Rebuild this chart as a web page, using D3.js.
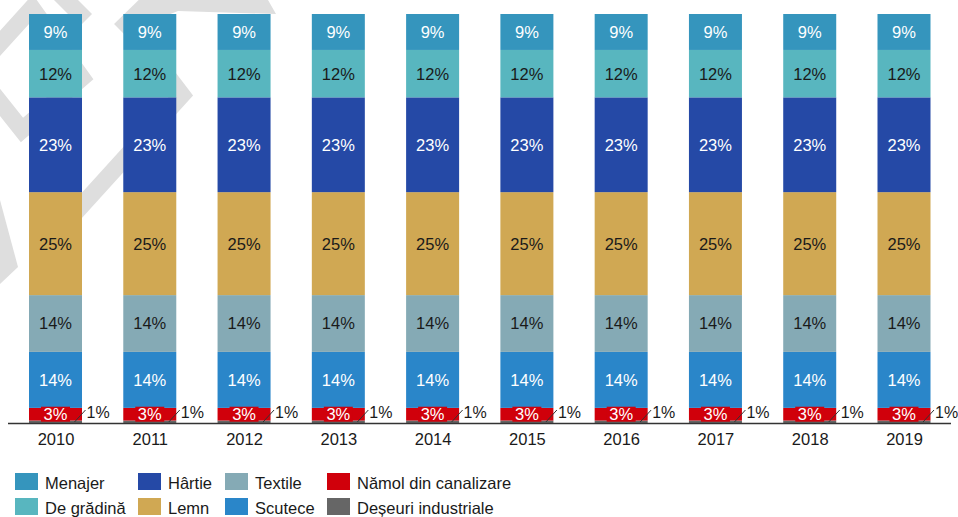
<!DOCTYPE html>
<html>
<head>
<meta charset="utf-8">
<script src="https://cdn.jsdelivr.net/npm/d3@7"></script>
<style>
  html, body { margin: 0; padding: 0; background: #fff; }
  svg { display: block; font-family: "Liberation Sans", Arial, sans-serif; }
</style>
</head>
<body>
<svg id="chart" width="958" height="517"></svg>
<script>
// ---------------- DATA ----------------
const years = ["2010","2011","2012","2013","2014","2015","2016","2017","2018","2019"];
// stacking order bottom -> top
const seriesNames = ["Deșeuri industriale","Nămol din canalizare","Scutece","Textile","Lemn","Hârtie","De grădină","Menajer"];
const deseuri  = [0.6,0.6,0.6,0.6,0.6,0.6,0.6,0.6,0.6,0.6];
const namol    = [3.1,3.1,3.1,3.1,3.1,3.1,3.1,3.1,3.1,3.1];
const scutece  = [13.7,13.7,13.7,13.7,13.7,13.7,13.7,13.7,13.7,13.7];
const textile  = [13.9,13.9,13.9,13.9,13.9,13.9,13.9,13.9,13.9,13.9];
const lemn     = [25.2,25.2,25.2,25.2,25.2,25.2,25.2,25.2,25.2,25.2];
const hartie   = [23.2,23.2,23.2,23.2,23.2,23.2,23.2,23.2,23.2,23.2];
const gradina  = [11.6,11.6,11.6,11.6,11.6,11.6,11.6,11.6,11.6,11.6];
const menajer  = [8.8,8.8,8.8,8.8,8.8,8.8,8.8,8.8,8.8,8.8];
const seriesValues = [deseuri, namol, scutece, textile, lemn, hartie, gradina, menajer];
const colors = {
  "Menajer": "#3595bd",
  "De grădină": "#58b6bf",
  "Hârtie": "#2549a6",
  "Lemn": "#d0a853",
  "Textile": "#85aab5",
  "Scutece": "#2a86c9",
  "Nămol din canalizare": "#d0000b",
  "Deșeuri industriale": "#666666"
};
const labelColors = {
  "Menajer": "#ffffff",
  "De grădină": "#1a1a1a",
  "Hârtie": "#ffffff",
  "Lemn": "#1a1a1a",
  "Textile": "#1a1a1a",
  "Scutece": "#ffffff",
  "Nămol din canalizare": "#ffffff",
  "Deșeuri industriale": "#1a1a1a"
};
const legendColumns = [["Menajer","De grădină"],["Hârtie","Lemn"],["Textile","Scutece"],["Nămol din canalizare","Deșeuri industriale"]];

// ---------------- BUILD ----------------
const svg = d3.select("#chart");
const FS = "16.5px";

// watermark (decorative)
const wm = svg.append("g").attr("fill","none").attr("stroke","#dedede").attr("stroke-width",17).attr("stroke-linejoin","miter");
wm.append("path").attr("d","M-25,71 L32,8 L82,78 L22,130 Z");
wm.append("path").attr("d","M60,-6 L86,20");
wm.append("path").attr("d","M155,-4 L120,30");
wm.append("path").attr("d","M140,40 L182,95 L55,235");
svg.append("path").attr("fill","#dedede").attr("d","M140,0 L268,0 L276,14 L178,11 L140,26 Z");
svg.append("path").attr("fill","#dedede").attr("d","M0,200 L18,267 L0,284 Z");

const table = years.map((yr, i) => {
  const row = { year: yr };
  seriesNames.forEach((s, k) => row[s] = seriesValues[k][i]);
  return row;
});
const stacked = d3.stack().keys(seriesNames)(table);
const total = d3.max(table, r => d3.sum(seriesNames, s => r[s]));

const baseY = 423, topY = 14;
const x = d3.scalePoint().domain(years).range([55.5, 904]);
const y = d3.scaleLinear().domain([0, total]).range([baseY, topY]);
const barW = 53;

const layers = svg.append("g").selectAll("g").data(stacked).join("g")
  .attr("fill", d => colors[d.key]);
layers.selectAll("rect").data(d => d).join("rect")
  .attr("x", d => x(d.data.year) - barW/2)
  .attr("width", barW)
  .attr("y", d => y(d[1]))
  .attr("height", d => y(d[0]) - y(d[1]));

const fmt = v => Math.round(v) + "%";

// in-bar labels for the main series
const mainKeys = ["Scutece","Textile","Lemn","Hârtie","De grădină","Menajer"];
stacked.filter(s => mainKeys.includes(s.key)).forEach(s => {
  svg.append("g").selectAll("text").data(s).join("text")
    .attr("x", d => x(d.data.year))
    .attr("y", d => (y(d[0]) + y(d[1]))/2)
    .attr("dy","0.36em")
    .attr("text-anchor","middle")
    .attr("font-size",FS)
    .attr("fill", labelColors[s.key])
    .text(d => fmt(d.data[s.key]));
});

// Nămol label with red box
const nam = stacked.find(s => s.key === "Nămol din canalizare");
const ng = svg.append("g").selectAll("g").data(nam).join("g");
ng.append("rect")
  .attr("x", d => x(d.data.year) - 14.5)
  .attr("y", d => (y(d[0]) + y(d[1]))/2 - 7.5)
  .attr("width", 29).attr("height", 15)
  .attr("fill", colors["Nămol din canalizare"]);
ng.append("text")
  .attr("x", d => x(d.data.year))
  .attr("y", d => (y(d[0]) + y(d[1]))/2)
  .attr("dy","0.36em")
  .attr("text-anchor","middle")
  .attr("font-size",FS)
  .attr("fill","#ffffff")
  .text(d => fmt(d.data["Nămol din canalizare"]));

// Deșeuri label outside with leader
const des = stacked.find(s => s.key === "Deșeuri industriale");
const dg = svg.append("g").selectAll("g").data(des).join("g");
dg.append("line")
  .attr("x1", d => x(d.data.year) + 19)
  .attr("y1", d => y(d[0]) - 1)
  .attr("x2", d => x(d.data.year) + 30)
  .attr("y2", d => y(d[0]) - 13)
  .attr("stroke","#333").attr("stroke-width",1);
dg.append("text")
  .attr("x", d => x(d.data.year) + 31)
  .attr("y", d => y(d[0]) - 11)
  .attr("dy","0.36em")
  .attr("font-size","16px")
  .attr("fill","#1a1a1a")
  .text(d => fmt(d.data["Deșeuri industriale"]));

// axis
svg.append("line").attr("x1",8).attr("x2",951).attr("y1",baseY+0.5).attr("y2",baseY+0.5)
  .attr("stroke","#333").attr("stroke-width",1.5);
const ax = svg.append("g").attr("transform",`translate(0,${baseY})`)
  .call(d3.axisBottom(x).tickSize(0).tickPadding(10));
ax.select(".domain").remove();
ax.selectAll("text").attr("font-size",FS).attr("font-family","Liberation Sans, Arial, sans-serif").attr("fill","#1a1a1a");

// legend
const colX = [15, 138, 225, 327];
const rowY = [473, 498];
legendColumns.forEach((col, ci) => {
  col.forEach((name, ri) => {
    const g = svg.append("g").attr("transform",`translate(${colX[ci]},${rowY[ri]})`);
    g.append("rect").attr("width",23).attr("height",17).attr("fill",colors[name]);
    g.append("text").attr("x",30).attr("y",10).attr("dy","0.36em")
      .attr("font-size",FS).attr("fill","#1a1a1a").text(name);
  });
});
</script>
</body>
</html>
